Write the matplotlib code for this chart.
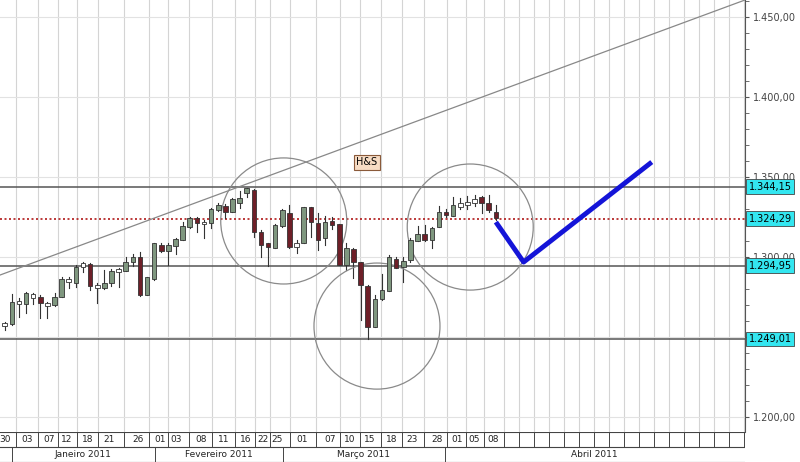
import numpy as np
import matplotlib.pyplot as plt
from matplotlib.patches import Ellipse, Rectangle

# OHLC per trading day, 30 Dec 2010 .. 08 Apr 2011
opens = [1257.1, 1258.4, 1270.7, 1270.9, 1274.4, 1275.0, 1269.6, 1270.2, 1275.0, 1284.4,
         1284.2, 1293.8, 1295.9, 1280.7, 1280.7, 1283.8, 1291.1, 1291.7, 1297.3, 1300.0,
         1276.5, 1286.3, 1307.8, 1304.2, 1307.3, 1310.9, 1319.2, 1324.4, 1320.7, 1321.3,
         1329.6, 1332.3, 1328.2, 1334.2, 1340.0, 1342.1, 1315.7, 1308.8, 1306.1, 1319.8,
         1327.5, 1306.7, 1308.8, 1331.3, 1321.3, 1311.9, 1322.7, 1320.7, 1295.3, 1305.3,
         1296.9, 1282.3, 1256.7, 1274.0, 1279.0, 1299.0, 1294.2, 1298.4, 1310.3, 1314.4,
         1310.9, 1319.2, 1328.6, 1326.1, 1331.7, 1332.8, 1333.8, 1337.9, 1333.8, 1328.2]
highs = [1259.8, 1276.9, 1274.4, 1278.6, 1278.0, 1276.5, 1272.3, 1278.0, 1287.5, 1287.5,
         1295.3, 1297.3, 1296.3, 1283.8, 1292.1, 1292.5, 1293.4, 1300.5, 1302.1, 1303.6,
         1288.0, 1309.2, 1308.8, 1309.2, 1312.3, 1322.3, 1325.5, 1325.5, 1323.4, 1331.0,
         1333.8, 1333.2, 1337.3, 1341.3, 1343.6, 1342.7, 1317.1, 1309.2, 1320.7, 1330.3,
         1332.8, 1310.9, 1331.7, 1331.7, 1327.5, 1326.1, 1325.5, 1320.7, 1308.8, 1305.7,
         1297.3, 1282.8, 1276.5, 1289.4, 1301.5, 1300.5, 1300.5, 1311.9, 1319.8, 1320.3,
         1319.2, 1332.3, 1330.3, 1338.0, 1337.3, 1338.6, 1339.0, 1338.6, 1339.0, 1332.8]
lows = [1254.6, 1257.8, 1263.0, 1265.5, 1270.9, 1261.9, 1262.3, 1269.8, 1275.0, 1281.1,
        1281.7, 1291.1, 1279.6, 1271.7, 1280.0, 1282.1, 1281.7, 1291.7, 1294.6, 1275.9,
        1276.5, 1285.9, 1303.6, 1295.3, 1301.9, 1310.9, 1318.6, 1315.7, 1311.9, 1318.2,
        1329.0, 1324.8, 1328.2, 1331.0, 1338.0, 1313.0, 1300.5, 1294.8, 1306.1, 1319.2,
        1306.1, 1302.5, 1308.8, 1313.0, 1304.6, 1307.8, 1317.7, 1295.3, 1292.1, 1286.9,
        1260.9, 1249.0, 1256.7, 1273.4, 1279.0, 1293.2, 1284.4, 1297.3, 1310.3, 1310.3,
        1305.7, 1319.2, 1325.5, 1326.1, 1330.3, 1330.3, 1332.3, 1327.5, 1328.6, 1323.4]
closes = [1259.2, 1272.3, 1272.9, 1277.5, 1276.9, 1271.7, 1271.7, 1275.5, 1286.7, 1286.5,
          1294.2, 1296.3, 1282.1, 1282.8, 1284.2, 1291.7, 1292.5, 1297.3, 1300.5, 1276.5,
          1287.5, 1308.8, 1304.2, 1307.8, 1311.5, 1319.8, 1324.8, 1321.3, 1322.3, 1330.0,
          1332.8, 1328.6, 1336.5, 1337.3, 1343.1, 1316.1, 1307.8, 1306.7, 1320.3, 1329.6,
          1306.7, 1308.8, 1331.7, 1321.9, 1310.9, 1322.3, 1320.3, 1295.3, 1305.7, 1296.9,
          1282.8, 1256.7, 1274.0, 1279.6, 1300.5, 1293.6, 1297.8, 1310.9, 1314.4, 1310.9,
          1318.2, 1328.6, 1326.5, 1332.8, 1333.8, 1334.4, 1336.5, 1333.8, 1329.6, 1324.4]

levels = [1344.15, 1294.95, 1249.01]
dotted_level = 1324.29
trend_x, trend_y = [-0.66, 104.0], [1289.0, 1460.9]
proj_x, proj_y = [69.0, 72.9, 90.9], [1322.1, 1297.1, 1359.6]
circles = [(39.2, 1322.8), (52.3, 1257.1), (65.4, 1319.0)]
y_ticks = [1200, 1250, 1300, 1350, 1400, 1450]

day_labels = ["30", "03", "07", "12", "18", "21", "26", "01", "03", "08", "11", "16", "22",
              "25", "01", "07", "10", "15", "18", "23", "28", "01", "05", "08"]
day_pos = [0.0, 3.1, 6.2, 8.7, 11.6, 14.7, 18.7, 21.8, 24.1, 27.6, 30.7, 33.9, 36.3,
           38.3, 41.8, 45.7, 48.5, 51.3, 54.3, 57.2, 60.7, 63.5, 66.0, 68.6]
months = ["Janeiro 2011", "Fevereiro 2011", "Março 2011", "Abril 2011"]
month_edges = [1.0, 21.1, 39.1, 61.8, 104.0]

xmin, xmax = -0.66, 104.0
ymin, ymax = 1190.9, 1460.9

fig = plt.figure(figsize=(8, 4.62), dpi=100)
ax = fig.add_axes([0, 30 / 462, 745 / 800, 432 / 462])
ax.set_xlim(xmin, xmax); ax.set_ylim(ymin, ymax)

# vertical grid at day separators
seps = [(day_pos[i] + day_pos[i + 1]) / 2 for i in range(len(day_pos) - 1)]
seps += list(np.arange(70.2, 104, 2.1))
for s in seps:
    ax.axvline(s, color="#d4d4d4", lw=0.8, zorder=0)
for t in y_ticks:
    ax.axhline(t, color="#e2e2e2", lw=0.8, zorder=0)

# candles
for i, (o, h, l, c) in enumerate(zip(opens, highs, lows, closes)):
    up = c >= o
    col = "#7f977f" if up else "#6e1f28"
    if up and c - o < 3:
        col = "white"
    ax.plot([i, i], [l, h], color="#333333", lw=0.8, zorder=3)
    ax.add_patch(Rectangle((i - 0.32, min(o, c)), 0.64, max(abs(c - o), 0.6),
                           facecolor=col, edgecolor="#333333", lw=0.6, zorder=4))

for lv in levels:
    ax.axhline(lv, color="#555555", lw=1.1, zorder=2)
ax.axhline(dotted_level, color="#b01818", lw=1.2, ls=(0, (1.2, 1.5)), zorder=2)
ax.plot(trend_x, trend_y, color="#888888", lw=0.9, zorder=2)
ax.plot(proj_x, proj_y, color="#1414d8", lw=3.5, solid_capstyle="butt", zorder=5)
for cx, cy in circles:
    ax.add_patch(Ellipse((cx, cy), 17.7, 78.8, fill=False, edgecolor="#8a8a8a", lw=0.9, zorder=3))
ax.text(50.9, 1359.6, "H&S", fontsize=7, ha="center", va="center",
        bbox=dict(boxstyle="square,pad=0.25", facecolor="#f7dcc4", edgecolor="#8a5a3a", lw=0.8))

# right axis
ax.set_xticks([])
ax.yaxis.tick_right()
ax.set_yticks(y_ticks)
ax.set_yticklabels([f"{t:,.2f}".replace(",", "X").replace(".", ",").replace("X", ".") for t in y_ticks],
                   fontsize=7, color="#444444")
ax.set_yticks(np.arange(1200, 1461, 10), minor=True)
ax.tick_params(axis="y", which="both", direction="out", length=3, color="#555555", pad=3)
for lv in levels + [dotted_level]:
    lab = f"{lv:,.2f}".replace(",", "X").replace(".", ",").replace("X", ".")
    ax.text(1.005, (lv - ymin) / (ymax - ymin), lab, transform=ax.transAxes, fontsize=7,
            va="center", ha="left",
            bbox=dict(boxstyle="square,pad=0.25", facecolor="#33e6f0", edgecolor="#444444", lw=0.6))
for sp in ["top", "left", "bottom"]:
    ax.spines[sp].set_visible(False)
ax.spines["right"].set_color("#555555")

# date table
bx = fig.add_axes([0, 0, 745 / 800, 30 / 462])
bx.set_xlim(xmin, xmax); bx.set_ylim(0, 2)
bx.axis("off")
bx.axhline(2, color="#444444", lw=0.8); bx.axhline(1, color="#444444", lw=0.8)
bx.axhline(0.02, color="#444444", lw=0.8)
for s in seps:
    bx.plot([s, s], [1, 2], color="#444444", lw=0.7)
for e in month_edges:
    bx.plot([e, e], [0, 1], color="#444444", lw=0.7)
for p, lab in zip(day_pos, day_labels):
    bx.text(p, 1.5, lab, fontsize=6.5, ha="center", va="center", color="#222222")
for i, m in enumerate(months):
    bx.text((month_edges[i] + month_edges[i + 1]) / 2, 0.5, m, fontsize=6.5,
            ha="center", va="center", color="#222222")

fig.savefig("out.png", dpi=100)
